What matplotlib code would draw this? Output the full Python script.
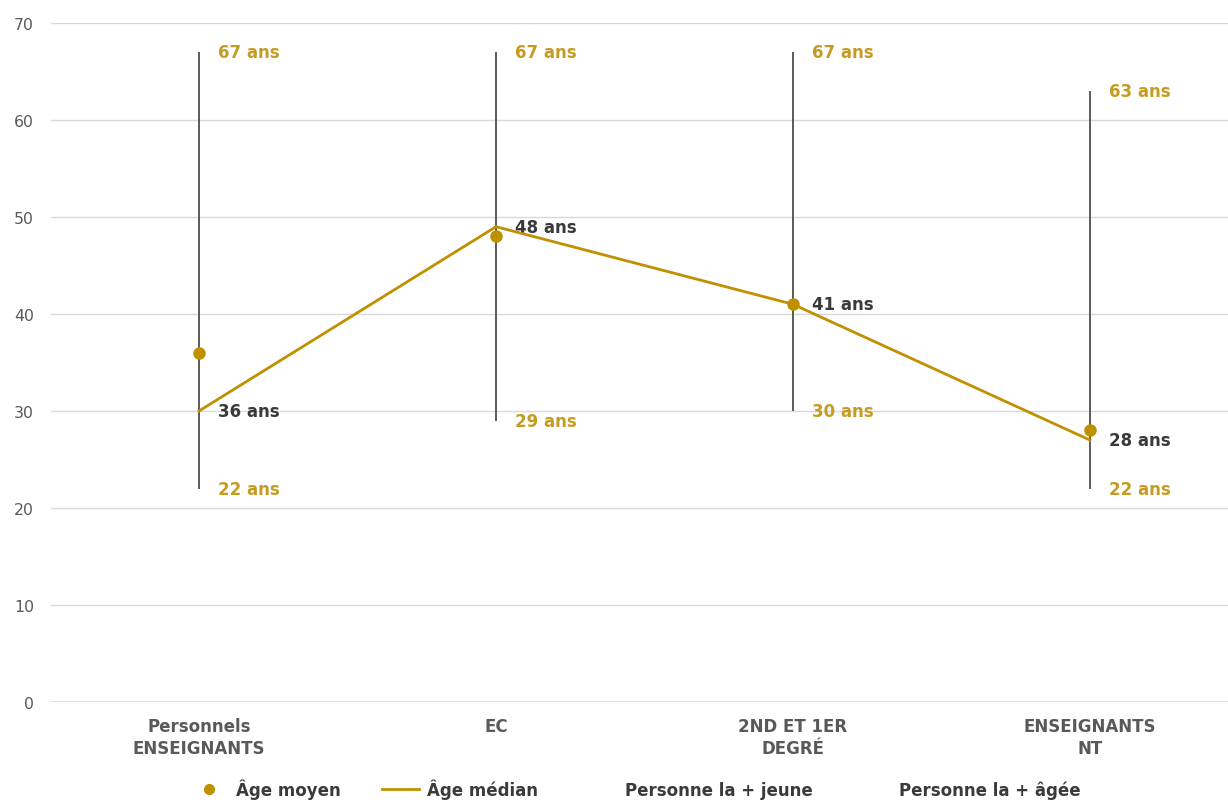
import matplotlib
matplotlib.use("Agg")
import matplotlib.pyplot as plt
from matplotlib.lines import Line2D

plt.rcParams['font.family'] = ['DejaVu Sans']

categories = ["Personnels\nENSEIGNANTS", "EC", "2ND ET 1ER\nDEGRÉ", "ENSEIGNANTS\nNT"]
age_moyen = [36, 48, 41, 28]
age_median = [30, 49, 41, 27]
plus_jeune = [22, 29, 30, 22]
plus_agee = [67, 67, 67, 63]

GOLD = "#BF9000"
GOLD_TXT = "#C59B22"
DARK = "#3A3A3A"
GRAY = "#595959"

fig = plt.figure(figsize=(12.28, 8.03), dpi=100)
ax = fig.add_axes([50.5/1228, 1-703/803, (1238.5-50.5)/1228, (703-24)/803])
x = list(range(len(categories)))

for i in x:
    ax.vlines(i, plus_jeune[i], plus_agee[i], color="#404040", lw=1.2, zorder=2)
    ax.text(i + 0.064, plus_agee[i], f"{plus_agee[i]} ans", color=GOLD_TXT, fontsize=12,
            fontweight="bold", va="center", ha="left")
    ax.text(i + 0.064, plus_jeune[i], f"{plus_jeune[i]} ans", color=GOLD_TXT, fontsize=12,
            fontweight="bold", va="center", ha="left")
    ax.text(i + 0.064, age_median[i], f"{age_moyen[i]} ans", color=DARK, fontsize=12,
            fontweight="bold", va="center", ha="left")

ax.plot(x, age_median, color=GOLD, lw=2, zorder=3)
ax.plot(x, age_moyen, ls="none", marker="o", ms=8, color=GOLD, zorder=4)

ax.set_xlim(-0.5, 3.5)
ax.set_ylim(0, 70)
ax.set_yticks(range(0, 71, 10))
ax.yaxis.grid(True, color="#D9D9D9", lw=1)
ax.set_axisbelow(True)
for s in ax.spines.values():
    s.set_visible(False)
ax.tick_params(axis="y", length=0, pad=12, labelcolor=GRAY, labelsize=11.3)
ax.tick_params(axis="x", length=0, pad=11, labelcolor=GRAY, labelsize=12)
ax.set_xticks(x)
ax.set_xticklabels(categories, fontweight="bold", linespacing=1.25)
ax.axhline(0, color="#D9D9D9", lw=1.2, zorder=1)

handles = [
    Line2D([], [], ls="none", marker="o", ms=7, color=GOLD),
    Line2D([], [], color=GOLD, lw=2),
    Line2D([], [], ls="none"),
    Line2D([], [], ls="none"),
]
labels = ["Âge moyen", "Âge médian", "Personne la + jeune", "Personne la + âgée"]
leg = fig.legend(handles, labels, loc="center", bbox_to_anchor=(636/1228, 1 - 790/803), ncol=4,
                 frameon=False, fontsize=12, handlelength=2.2, columnspacing=2.5,
                 handletextpad=0.5)
for t in leg.get_texts():
    t.set_color(DARK)
    t.set_fontweight("bold")

fig.savefig("out.png", dpi=100, facecolor="white")
